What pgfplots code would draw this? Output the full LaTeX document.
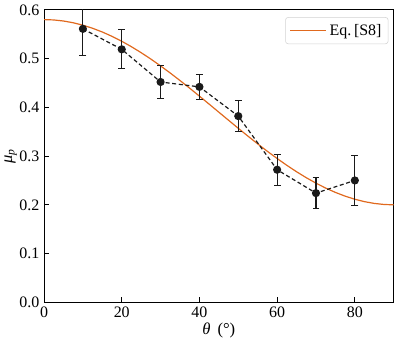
\documentclass[border=0pt]{standalone}
\usepackage{pgfplots}
\pgfplotsset{compat=1.18}
\usepackage{fontspec}
\setmainfont{Liberation Serif}
\definecolor{cOrange}{HTML}{E0691E}
\definecolor{cData}{HTML}{1A1A1A}

\begin{document}
\begin{tikzpicture}
\begin{axis}[
    scale only axis,
    width=263pt,
    height=220pt,
    xmin=0, xmax=90,
    ymin=0, ymax=0.6,
    xtick={0,20,40,60,80},
    ytick={0,0.1,0.2,0.3,0.4,0.5,0.6},
    yticklabel style={/pgf/number format/.cd, fixed, fixed zerofill, precision=1},
    /pgf/number format/assume math mode=true,
    tick align=inside,
    xtick pos=bottom,
    ytick pos=left,
    major tick length=4pt,
    tick style={black, line width=0.6pt},
    axis line style={line width=0.6pt},
    tick label style={font=\fontsize{12}{14}\selectfont},
    label style={font=\fontsize{12.5}{14}\selectfont},
    xlabel={\textit{θ}\, (°)},
    ylabel={\textit{μ\textsubscript{p}}},
    xlabel style={yshift=3pt},
    ylabel style={yshift=-5pt},
    legend style={
        at={(0.985,0.975)},
        anchor=north east,
        draw=gray!35,
        rounded corners=2pt,
        font=\fontsize{12}{14}\selectfont,
        inner xsep=3pt, inner ysep=3pt,
    },
    legend image post style={xscale=1.6},
]
\addplot[cOrange, line width=0.9pt] coordinates {
    (0,0.58000)(2.5,0.57928)(5,0.57711)(7.5,0.57353)(10,0.56854)(12.5,0.56220)
    (15,0.55455)(17.5,0.54564)(20,0.53555)(22.5,0.52435)(25,0.51213)(27.5,0.49898)
    (30,0.48500)(32.5,0.47030)(35,0.45498)(37.5,0.43918)(40,0.42299)(42.5,0.40656)
    (45,0.39000)(47.5,0.37344)(50,0.35701)(52.5,0.34082)(55,0.32502)(57.5,0.30970)
    (60,0.29500)(62.5,0.28102)(65,0.26787)(67.5,0.25565)(70,0.24445)(72.5,0.23436)
    (75,0.22545)(77.5,0.21780)(80,0.21146)(82.5,0.20647)(85,0.20289)(87.5,0.20072)
    (90,0.20000)
};
\addlegendentry{Eq.\,[S8]}
\addplot[
    cData, line width=0.9pt, dash pattern=on 3pt off 2pt,
    mark=*, mark size=2.6pt, mark options={solid},
    error bars/.cd, y dir=both, y explicit,
    error bar style={line width=0.8pt, solid},
    error mark options={rotate=90, mark size=2.6pt, line width=0.8pt},
] coordinates {
    (10,0.561) +- (0,0.054)
    (20,0.519) +- (0,0.040)
    (30,0.452) +- (0,0.033)
    (40,0.442) +- (0,0.026)
    (50,0.382) +- (0,0.032)
    (60,0.272) +- (0,0.032)
    (70,0.224) +- (0,0.032)
    (80,0.250) +- (0,0.052)
};
\end{axis}
\path ([xshift=4pt]current axis.north east);
\end{tikzpicture}
\end{document}
